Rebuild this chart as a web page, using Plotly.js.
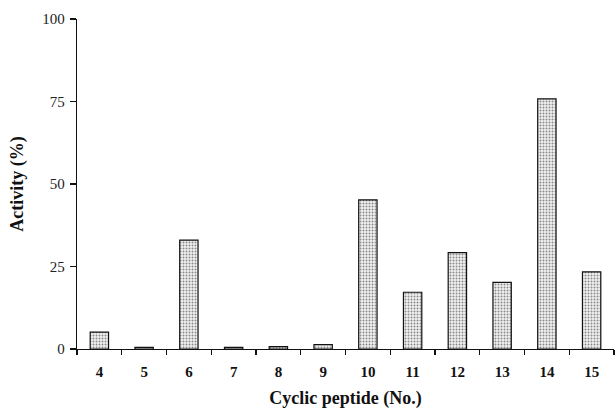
<!DOCTYPE html>
<html><head><meta charset="utf-8">
<script src="https://cdn.plot.ly/plotly-3.0.1.min.js"></script>
<style>body{margin:0;background:#fff}</style>
</head><body>
<div id="chart" style="width:615px;height:416px"></div>
<script>
const categories = ["4","5","6","7","8","9","10","11","12","13","14","15"];
const activity = [5.1, 0.5, 33.0, 0.5, 0.7, 1.3, 45.2, 17.2, 29.2, 20.2, 75.8, 23.4];
const yTicks = [0, 25, 50, 75, 100];

const serif = "'Liberation Serif', 'Times New Roman', Times, serif";

const trace = {
  type: 'bar',
  x: categories,
  y: activity,
  width: 0.41,
  marker: {
    color: '#e0e0e0',
    line: {color: '#111', width: 1.2},
    pattern: {shape: '.', fgcolor: '#8a8a8a', bgcolor: '#f3f3f3', size: 3, solidity: 0.35}
  },
  hoverinfo: 'none'
};

const layout = {
  width: 615, height: 416,
  margin: {l: 77, r: 1, t: 19, b: 67},
  paper_bgcolor: '#fff', plot_bgcolor: '#fff',
  showlegend: false,
  xaxis: {
    type: 'category',
    range: [-0.5, 11.5],
    showline: true, linecolor: '#111', linewidth: 1.2,
    ticks: 'outside', tickson: 'boundaries', ticklen: 5, tickcolor: '#111', tickwidth: 1.2,
    tickfont: {family: serif, size: 15, color: '#111', weight: 'bold'},
    ticklabelstandoff: 9,
    showgrid: false, zeroline: false,
    title: {text: '<b>Cyclic peptide (No.)</b>', font: {family: serif, size: 18, color: '#111'}, standoff: 12}
  },
  yaxis: {
    range: [0, 100],
    tickvals: yTicks,
    ticktext: yTicks.map(String),
    showline: true, linecolor: '#111', linewidth: 1.2,
    ticks: 'outside', ticklen: 6, tickcolor: '#111', tickwidth: 1.2,
    tickfont: {family: serif, size: 15, color: '#222'},
    ticklabelstandoff: 2,
    showgrid: false, zeroline: false,
    title: {text: '<b>Activity (%)</b>', font: {family: serif, size: 18, color: '#111'}, standoff: 14}
  }
};

Plotly.newPlot('chart', [trace], layout, {displayModeBar: false, staticPlot: true});
</script>
</body></html>
